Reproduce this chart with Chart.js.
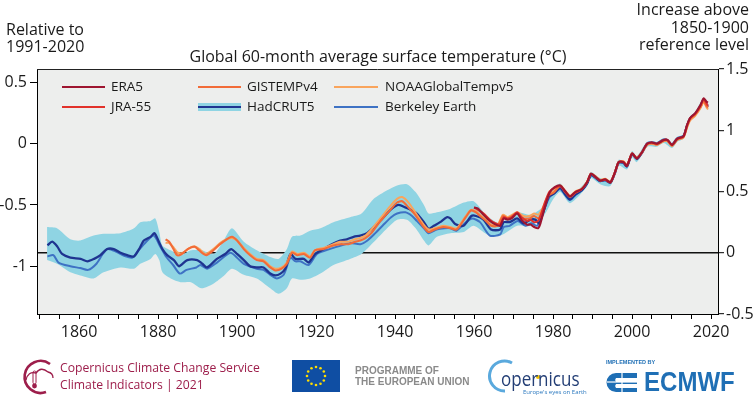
<!DOCTYPE html>
<html>
<head>
<meta charset="utf-8">
<script src="https://cdn.jsdelivr.net/npm/chart.js@4.4.0/dist/chart.umd.min.js"></script>
<style>
html,body{margin:0;padding:0;background:#fff;}
#wrap{position:relative;width:756px;height:412px;overflow:hidden;font-family:"Open Sans",sans-serif;color:#1a1a1a;}
#c{position:absolute;left:0;top:0;}
.t{position:absolute;white-space:nowrap;line-height:1;}
.ln{position:absolute;}
svg{position:absolute;left:0;top:0;}
</style>
</head>
<body>
<div id="wrap">
<canvas id="c" width="756" height="412"></canvas>

<div class="t" style="left:6px;top:20.8px;font-size:16px;">Relative to</div>
<div class="t" style="left:6px;top:37.8px;font-size:16px;">1991-2020</div>
<div class="t" style="right:7px;top:0.8px;font-size:16px;text-align:right;">Increase above</div>
<div class="t" style="right:7px;top:18.8px;font-size:16px;text-align:right;">1850-1900</div>
<div class="t" style="right:7px;top:35.8px;font-size:16px;text-align:right;">reference level</div>
<div class="t" style="left:0;width:756px;text-align:center;top:47.8px;font-size:16px;">Global 60-month average surface temperature (°C)</div>

<!-- legend -->
<div class="ln" style="left:62px;top:86.3px;width:43px;height:2px;background:#9e1530;"></div>
<div class="t" style="left:111px;top:79.7px;font-size:13.5px;">ERA5</div>
<div class="ln" style="left:62px;top:105.7px;width:43px;height:2px;background:#e2322b;"></div>
<div class="t" style="left:111px;top:99.5px;font-size:13.5px;">JRA-55</div>
<div class="ln" style="left:198px;top:86.3px;width:43px;height:2px;background:#f26b38;"></div>
<div class="t" style="left:247px;top:79.7px;font-size:13.5px;">GISTEMPv4</div>
<div class="ln" style="left:198px;top:102.7px;width:43px;height:8px;background:#8fd4e3;"></div>
<div class="ln" style="left:198px;top:105.7px;width:43px;height:2px;background:#1f3490;"></div>
<div class="t" style="left:247px;top:99.5px;font-size:13.5px;">HadCRUT5</div>
<div class="ln" style="left:334px;top:86.3px;width:44px;height:2px;background:#f9a45c;"></div>
<div class="t" style="left:385px;top:79.7px;font-size:13.5px;">NOAAGlobalTempv5</div>
<div class="ln" style="left:334px;top:105.7px;width:44px;height:2px;background:#3e72c4;"></div>
<div class="t" style="left:385px;top:99.5px;font-size:13.5px;">Berkeley Earth</div>

<!-- footer graphics -->
<svg width="756" height="412" viewBox="0 0 756 412">
  <path d="M50 364 A16 16 0 1 0 46 392" fill="none" stroke="#9d1e4b" stroke-width="2.6"/>
  <path d="M26 380 q2 -9 10 -7 q5 -7 12 -1 q5 1 5 6" fill="none" stroke="#9d1e4b" stroke-width="1.3"/>
  <rect x="33" y="371" width="3" height="13" rx="1.5" fill="none" stroke="#9d1e4b" stroke-width="1"/>
  <circle cx="34.5" cy="386" r="2.4" fill="#9d1e4b"/>
  <rect x="292" y="360" width="48" height="32" fill="#0f4ea3"/>
  <g fill="#ffdd00">
    <circle cx="316" cy="367" r="1.3"/><circle cx="320.5" cy="368.2" r="1.3"/><circle cx="323.8" cy="371.5" r="1.3"/>
    <circle cx="325" cy="376" r="1.3"/><circle cx="323.8" cy="380.5" r="1.3"/><circle cx="320.5" cy="383.8" r="1.3"/>
    <circle cx="316" cy="385" r="1.3"/><circle cx="311.5" cy="383.8" r="1.3"/><circle cx="308.2" cy="380.5" r="1.3"/>
    <circle cx="307" cy="376" r="1.3"/><circle cx="308.2" cy="371.5" r="1.3"/><circle cx="311.5" cy="368.2" r="1.3"/>
  </g>
  <path d="M512 363 A15 15 0 1 0 505 391" fill="none" stroke="#5aa9dd" stroke-width="3"/>
  <circle cx="538" cy="377" r="2" fill="#f5c400"/>
  <g fill="#1f6fb5">
    <path d="M616 373 h21 v5 h-21 a3 3 0 0 0 0 4 h21 v2 h-21 a3 3 0 0 0 0 4 h21 v4 h-21 a9.5 9.5 0 0 1 0 -19 z"/>
  </g>
  <g stroke="#fff" stroke-width="1.2" fill="none">
    <path d="M607 382 h30"/><path d="M622 373 v19"/>
  </g>
</svg>

<div class="t" style="left:60px;top:362.2px;font-size:12.2px;color:#9d1e4b;">Copernicus Climate Change Service</div>
<div class="t" style="left:60px;top:379.2px;font-size:12.2px;color:#9d1e4b;">Climate Indicators | 2021</div>
<div class="t" style="left:355px;top:365.8px;font-size:10px;font-weight:bold;font-family:'Liberation Sans',Arial,sans-serif;color:#8a8a8a;">PROGRAMME OF</div>
<div class="t" style="left:355px;top:376.8px;font-size:10px;font-weight:bold;font-family:'Liberation Sans',Arial,sans-serif;color:#8a8a8a;">THE EUROPEAN UNION</div>
<div class="t" style="left:501px;top:369.2px;font-size:20px;color:#233e75;transform:scaleX(0.85);transform-origin:0 0;">opernicus</div>
<div class="t" style="left:523px;top:388.7px;font-size:6px;color:#2a78bf;">Europe's eyes on Earth</div>
<div class="t" style="left:606px;top:360.4px;font-size:5.5px;font-weight:bold;font-family:'Liberation Sans',Arial,sans-serif;color:#1f6fb5;">IMPLEMENTED BY</div>
<div class="t" style="left:644px;top:369.1px;font-size:27px;font-weight:bold;font-family:'Liberation Sans',Arial,sans-serif;color:#1f6fb5;transform:scaleX(0.89);transform-origin:0 0;">ECMWF</div>
</div>

<script>
// offset between the two baselines (1991-2020 vs 1850-1900)
const OFFSET = 0.89;

const xTickYears = [1850,1855,1860,1865,1870,1875,1880,1885,1890,1895,1900,1905,1910,1915,1920,1925,1930,1935,1940,1945,1950,1955,1960,1965,1970,1975,1980,1985,1990,1995,2000,2005,2010,2015,2020];
const xLabelYears = [1860,1880,1900,1920,1940,1960,1980,2000,2020];
const leftTicks = [-1,-0.5,0,0.5];
const rightTicks = [-0.5,0,0.5,1,1.5];

// values: increase above 1850-1900 (°C), 60-month averages
const hadYears = [1852.0,1853.2,1854.5,1855.7,1857.8,1860.4,1862.1,1863.8,1865.4,1867.1,1868.8,1870.5,1872.2,1873.9,1875.2,1876.4,1878.1,1879.1,1880.2,1881.1,1882.3,1884.0,1885.3,1887.4,1889.9,1891.2,1892.4,1894.9,1897.0,1898.5,1900.0,1901.7,1903.3,1905.0,1906.7,1908.4,1909.7,1911.0,1912.2,1913.5,1914.8,1916.9,1918.1,1919.8,1921.9,1924.0,1926.1,1927.8,1929.5,1931.2,1932.9,1935.0,1937.1,1939.2,1940.9,1942.6,1944.3,1945.5,1947.3,1948.5,1949.8,1951.4,1953.1,1954.0,1955.2,1957.3,1959.3,1960.5,1962.4,1964.3,1966.6,1967.5,1969.0,1970.9,1972.5,1974.3,1975.5,1976.5,1977.6,1978.9,1980.1,1981.8,1983.1,1984.3,1985.6,1987.3,1988.6,1989.6,1990.7,1991.9,1993.2,1994.5,1995.7,1996.6,1997.8,1998.7,2000.0,2001.2,2002.5,2003.8,2005.0,2006.3,2008.0,2009.0,2010.1,2011.4,2013.0,2013.9,2014.7,2016.0,2017.3,2018.1,2018.8,2019.2];
const hadValues = [0.06,0.09,0.05,-0.01,-0.04,-0.05,-0.07,-0.05,-0.02,0.03,0.03,0.00,-0.02,-0.03,0.03,0.10,0.13,0.16,0.09,0.03,-0.02,-0.06,-0.11,-0.06,-0.06,-0.09,-0.12,-0.05,-0.01,0.03,-0.01,-0.06,-0.11,-0.12,-0.12,-0.17,-0.185,-0.17,-0.13,-0.01,-0.05,-0.05,-0.08,-0.01,0.03,0.07,0.10,0.11,0.13,0.14,0.16,0.22,0.29,0.36,0.39,0.37,0.345,0.32,0.25,0.195,0.22,0.25,0.29,0.28,0.235,0.22,0.30,0.30,0.27,0.19,0.19,0.25,0.25,0.28,0.24,0.27,0.27,0.24,0.34,0.46,0.48,0.53,0.475,0.435,0.475,0.51,0.565,0.635,0.615,0.585,0.595,0.57,0.655,0.735,0.735,0.705,0.805,0.765,0.815,0.885,0.895,0.885,0.915,0.915,0.875,0.925,0.95,1.035,1.095,1.13,1.19,1.245,1.21,1.19];

const bandYears = [1851.9,1854.4,1857.8,1860.3,1863.7,1866.2,1870.5,1873.9,1875.5,1878.1,1879.3,1880.3,1881.1,1883.2,1885.7,1888.3,1891.0,1894.1,1896.6,1898.7,1901.7,1905.0,1908.4,1910.5,1912.6,1913.9,1916.0,1918.5,1921.1,1924.4,1928.6,1931.5,1934.6,1938.0,1940.5,1943.0,1945.2,1947.3,1948.5,1950.6,1954.0,1957.4,1959.9,1963.3,1966.7,1970.9,1974.3,1977.6,1980.1,1981.8,1984.3,1988.6,1989.6,1991.9,1994.5,1996.6,1998.7,2000.0,2001.2,2003.8,2006.3,2008.0,2010.1,2011.4,2013.0,2014.7,2016.0,2018.1,2019.2];
const bandUpper = [0.21,0.20,0.11,0.10,0.14,0.155,0.16,0.20,0.25,0.26,0.28,0.17,0.06,0.02,-0.02,0.02,0.02,-0.01,0.10,0.20,0.09,0.02,-0.035,-0.05,0.03,0.13,0.14,0.18,0.20,0.25,0.29,0.32,0.44,0.51,0.55,0.56,0.495,0.39,0.32,0.33,0.36,0.41,0.42,0.30,0.24,0.33,0.31,0.38,0.52,0.565,0.465,0.59,0.66,0.61,0.595,0.76,0.73,0.83,0.79,0.905,0.905,0.935,0.895,0.945,0.97,1.115,1.15,1.265,1.21];
const bandLower = [-0.06,-0.09,-0.16,-0.185,-0.21,-0.16,-0.12,-0.13,-0.09,-0.05,-0.01,-0.06,-0.16,-0.21,-0.24,-0.24,-0.29,-0.25,-0.19,-0.13,-0.18,-0.21,-0.29,-0.335,-0.29,-0.21,-0.22,-0.21,-0.17,-0.10,-0.05,-0.01,0.087,0.20,0.27,0.27,0.20,0.10,0.06,0.13,0.16,0.17,0.22,0.15,0.14,0.22,0.22,0.30,0.44,0.495,0.405,0.54,0.61,0.56,0.545,0.71,0.68,0.78,0.74,0.865,0.865,0.895,0.855,0.905,0.93,1.075,1.11,1.225,1.17];

const berkYears = [1852.0,1853.5,1854.8,1857.8,1860.3,1862.3,1864.4,1866.0,1867.3,1869.3,1871.8,1873.5,1874.8,1877.0,1878.9,1880.4,1882.1,1883.8,1885.5,1887.2,1889.7,1890.7,1892.4,1894.9,1898.3,1900.0,1901.7,1905.0,1906.7,1908.4,1910.1,1911.8,1913.5,1914.8,1916.0,1918.1,1920.2,1922.5,1924.4,1926.5,1928.6,1931.2,1933.0,1935.0,1937.1,1939.0,1940.5,1942.6,1944.3,1945.5,1947.3,1948.5,1950.5,1952.5,1954.0,1955.5,1958.0,1959.5,1961.5,1964.0,1966.6,1967.5,1969.0,1971.0,1973.0,1974.5,1976.0,1977.5,1979.0,1980.5,1981.8,1983.1,1984.3,1985.6,1987.3,1988.6,1989.6,1990.7,1991.9,1993.2,1994.5,1995.7,1996.6,1997.8,1998.7,2000.0,2001.2,2002.5,2003.8,2005.0,2006.3,2008.0,2009.0,2010.1,2011.4,2013.0,2013.9,2014.7,2016.0,2017.3,2018.1,2018.8,2019.2];
const berkValues = [-0.03,-0.02,-0.08,-0.11,-0.125,-0.14,-0.09,-0.01,0.03,0.01,-0.03,-0.04,0.01,0.09,0.14,0.06,-0.035,-0.10,-0.17,-0.14,-0.12,-0.10,-0.13,-0.08,0.00,-0.04,-0.09,-0.13,-0.14,-0.18,-0.21,-0.18,-0.04,-0.07,-0.07,-0.10,-0.01,0.02,0.04,0.06,0.08,0.07,0.10,0.16,0.23,0.29,0.32,0.33,0.30,0.26,0.20,0.16,0.19,0.20,0.20,0.18,0.25,0.28,0.25,0.14,0.15,0.21,0.22,0.26,0.22,0.24,0.22,0.33,0.45,0.49,0.52,0.47,0.43,0.47,0.51,0.565,0.635,0.61,0.585,0.59,0.57,0.655,0.74,0.735,0.705,0.81,0.77,0.82,0.895,0.905,0.895,0.925,0.92,0.885,0.935,0.955,1.04,1.10,1.135,1.195,1.25,1.215,1.20];

const gissYears = [1881.9,1882.8,1883.9,1884.8,1886.0,1887.5,1889.2,1890.4,1891.5,1892.2,1894.0,1895.7,1897.4,1898.7,1900.0,1901.7,1903.3,1905.0,1906.7,1908.4,1909.7,1911.3,1912.6,1913.9,1915.2,1916.9,1918.5,1919.7,1921.9,1924.4,1926.1,1928.2,1929.9,1931.2,1932.5,1934.0,1936.3,1938.5,1940.5,1941.8,1943.4,1945.1,1947.0,1948.5,1950.0,1952.2,1954.0,1955.6,1957.9,1959.2,1960.5,1961.5,1963.0,1964.3,1966.0,1967.3,1968.5,1970.9,1972.5,1974.0,1975.2,1976.3,1977.6,1978.9,1980.1,1981.8,1983.1,1984.3,1985.6,1987.3,1988.6,1989.6,1990.7,1991.9,1993.2,1994.5,1995.7,1996.6,1997.8,1998.7,2000.0,2001.2,2002.5,2003.8,2005.0,2006.3,2008.0,2009.0,2010.1,2011.4,2013.0,2013.9,2014.7,2016.0,2017.3,2018.1,2018.8,2019.2];
const gissValues = [0.11,0.09,0.03,-0.02,-0.01,0.03,0.05,0.02,-0.01,-0.02,0.02,0.07,0.11,0.13,0.10,0.03,-0.02,-0.06,-0.07,-0.12,-0.145,-0.13,-0.09,0.00,-0.02,-0.01,-0.04,0.02,0.03,0.06,0.07,0.07,0.09,0.10,0.12,0.16,0.26,0.34,0.41,0.42,0.37,0.31,0.22,0.17,0.19,0.21,0.20,0.19,0.29,0.345,0.33,0.30,0.26,0.22,0.22,0.30,0.28,0.32,0.28,0.28,0.30,0.28,0.36,0.47,0.49,0.545,0.495,0.455,0.49,0.52,0.575,0.645,0.62,0.59,0.60,0.575,0.66,0.74,0.745,0.715,0.81,0.775,0.82,0.885,0.895,0.885,0.915,0.915,0.875,0.925,0.945,1.03,1.09,1.13,1.19,1.24,1.20,1.185];

const noaaYears = [1881.9,1882.8,1884.0,1885.0,1886.3,1888.0,1889.5,1890.5,1892.0,1894.0,1895.7,1897.4,1898.7,1900.0,1901.7,1903.3,1905.0,1906.7,1908.4,1909.7,1911.3,1912.6,1913.9,1915.2,1916.9,1918.5,1919.7,1921.9,1924.4,1926.1,1928.2,1929.9,1931.2,1932.5,1934.0,1936.3,1938.5,1940.5,1941.8,1943.4,1945.1,1947.0,1948.5,1950.0,1952.2,1954.0,1955.6,1957.9,1959.2,1960.5,1961.5,1963.0,1964.3,1966.0,1967.3,1968.5,1970.9,1972.5,1974.0,1975.2,1976.3,1977.6,1978.9,1980.1,1981.8,1983.1,1984.3,1985.6,1987.3,1988.6,1989.6,1990.7,1991.9,1993.2,1994.5,1995.7,1996.6,1997.8,1998.7,2000.0,2001.2,2002.5,2003.8,2005.0,2006.3,2008.0,2009.0,2010.1,2011.4,2013.0,2013.9,2014.7,2016.0,2017.3,2018.1,2018.8,2019.2];
const noaaValues = [0.08,0.08,0.04,0.00,0.00,0.04,0.05,0.03,-0.01,0.03,0.08,0.11,0.12,0.10,0.04,-0.01,-0.05,-0.06,-0.11,-0.13,-0.12,-0.08,0.01,-0.01,0.00,-0.03,0.02,0.04,0.07,0.09,0.09,0.11,0.12,0.14,0.19,0.28,0.37,0.44,0.455,0.41,0.33,0.24,0.19,0.20,0.22,0.21,0.20,0.30,0.35,0.34,0.31,0.27,0.23,0.23,0.31,0.29,0.33,0.30,0.30,0.32,0.31,0.38,0.48,0.50,0.55,0.505,0.465,0.50,0.525,0.58,0.645,0.625,0.595,0.605,0.58,0.66,0.74,0.745,0.715,0.81,0.775,0.82,0.88,0.89,0.88,0.91,0.91,0.87,0.92,0.94,1.02,1.08,1.12,1.18,1.23,1.19,1.17];

const jraYears = [1960.0,1961.0,1962.4,1964.0,1965.5,1966.6,1967.5,1968.5,1969.5,1970.9,1972.0,1973.4,1974.3,1975.2,1976.2,1976.8,1977.8,1979.1,1980.4,1981.8,1983.1,1984.3,1985.6,1987.3,1988.6,1989.6,1990.7,1991.9,1993.2,1994.5,1995.7,1996.6,1997.8,1998.7,2000.0,2001.2,2002.5,2003.8,2005.0,2006.3,2008.0,2009.0,2010.1,2011.4,2013.0,2013.9,2014.7,2016.0,2017.3,2018.1,2018.8,2019.2];
const jraValues = [0.37,0.35,0.32,0.27,0.24,0.23,0.29,0.28,0.29,0.33,0.29,0.26,0.27,0.25,0.26,0.30,0.40,0.50,0.53,0.545,0.50,0.46,0.49,0.52,0.575,0.645,0.62,0.59,0.595,0.575,0.66,0.74,0.74,0.71,0.81,0.77,0.82,0.89,0.90,0.89,0.92,0.92,0.88,0.93,0.95,1.04,1.10,1.135,1.20,1.255,1.22,1.20];

const eraYears = [1960.0,1961.0,1962.4,1964.0,1965.5,1966.6,1967.5,1968.5,1969.5,1970.9,1972.0,1973.4,1974.3,1975.2,1976.2,1976.8,1977.8,1979.1,1980.4,1981.8,1983.1,1984.3,1985.6,1987.3,1988.6,1989.6,1990.7,1991.9,1993.2,1994.5,1995.7,1996.6,1997.8,1998.7,2000.0,2001.2,2002.5,2003.8,2005.0,2006.3,2008.0,2009.0,2010.1,2011.4,2013.0,2013.9,2014.7,2016.0,2017.3,2018.1,2018.8,2019.2];
const eraValues = [0.37,0.36,0.31,0.26,0.23,0.22,0.28,0.27,0.28,0.32,0.27,0.23,0.23,0.21,0.20,0.24,0.36,0.49,0.535,0.55,0.50,0.46,0.495,0.52,0.575,0.645,0.62,0.59,0.60,0.575,0.66,0.74,0.74,0.71,0.81,0.77,0.82,0.89,0.90,0.89,0.92,0.92,0.88,0.93,0.95,1.04,1.10,1.14,1.205,1.26,1.235,1.225];

const FONT = '"Open Sans", sans-serif';
const pts = (xs, vs) => xs.map((x, i) => ({x: x, y: vs[i]}));
const line = (label, xs, vs, color, w) => ({
  label, data: pts(xs, vs), borderColor: color, backgroundColor: color,
  borderWidth: w, pointRadius: 0, tension: 0.25, fill: false, yAxisID: 'y2'
});

const framePlugin = {
  id: 'frame',
  beforeDraw(chart) {
    const {ctx, chartArea: a} = chart;
    ctx.save();
    ctx.fillStyle = '#edeeed';
    ctx.fillRect(a.left, a.top, a.right - a.left, a.bottom - a.top);
    ctx.restore();
  },
  afterDraw(chart) {
    const {ctx, chartArea: a} = chart;
    ctx.save();
    ctx.strokeStyle = '#222';
    ctx.lineWidth = 1;
    ctx.beginPath();
    ctx.moveTo(a.left, Math.round(a.top) + 0.5);
    ctx.lineTo(a.right, Math.round(a.top) + 0.5);
    ctx.stroke();
    ctx.restore();
  }
};

new Chart(document.getElementById('c'), {
  type: 'line',
  data: {
    datasets: [
      line('ERA5', eraYears, eraValues, '#9e1530', 2.1),
      line('JRA-55', jraYears, jraValues, '#e2322b', 2.0),
      line('GISTEMPv4', gissYears, gissValues, '#f26b38', 2.1),
      line('NOAAGlobalTempv5', noaaYears, noaaValues, '#f9a45c', 2.0),
      line('HadCRUT5', hadYears, hadValues, '#1f3490', 2.3),
      line('Berkeley Earth', berkYears, berkValues, '#3e72c4', 2.0),
      {label: 'HadCRUT5 upper', data: pts(bandYears, bandUpper), borderColor: 'rgba(0,0,0,0)', borderWidth: 0,
       backgroundColor: '#8fd4e3', pointRadius: 0, tension: 0.25, fill: '+1', yAxisID: 'y2'},
      {label: 'HadCRUT5 lower', data: pts(bandYears, bandLower), borderColor: 'rgba(0,0,0,0)', borderWidth: 0,
       backgroundColor: '#8fd4e3', pointRadius: 0, tension: 0.25, fill: false, yAxisID: 'y2'}
    ]
  },
  options: {
    responsive: false,
    animation: false,
    events: [],
    layout: {padding: {top: 69, bottom: 68, left: 0, right: 0}},
    plugins: {legend: {display: false}, tooltip: {enabled: false}, title: {display: false}},
    scales: {
      x: {
        type: 'linear', position: 'bottom', min: 1849.35, max: 2021.75,
        afterBuildTicks: s => { s.ticks = xTickYears.map(v => ({value: v})); },
        afterFit: s => { s.height = 30; },
        ticks: {autoSkip: false, maxRotation: 0, padding: 4, color: '#1a1a1a', font: {family: FONT, size: 16},
                callback: v => xLabelYears.includes(v) ? String(v) : ''},
        grid: {drawOnChartArea: false, drawTicks: true, tickLength: 5, tickColor: '#000', tickWidth: 1},
        border: {display: true, color: '#000', width: 1}
      },
      y: {
        type: 'linear', position: 'left', min: -0.5 - OFFSET, max: 1.5 - OFFSET,
        afterBuildTicks: s => { s.ticks = leftTicks.map(v => ({value: v})); },
        afterFit: s => { s.width = 37; },
        ticks: {padding: 3, color: '#1a1a1a', font: {family: FONT, size: 16}, callback: v => String(v)},
        grid: {drawOnChartArea: false, drawTicks: true, tickLength: 7, tickColor: '#000', tickWidth: 1},
        border: {display: true, color: '#000', width: 1}
      },
      y2: {
        type: 'linear', position: 'right', min: -0.5, max: 1.5,
        afterBuildTicks: s => { s.ticks = rightTicks.map(v => ({value: v})); },
        afterFit: s => { s.width = 38; },
        ticks: {padding: 2, color: '#1a1a1a', font: {family: FONT, size: 16}, callback: v => String(v)},
        grid: {drawOnChartArea: true, drawTicks: true, tickLength: 6, tickColor: '#000', tickWidth: 1,
               lineWidth: 1.4, color: c => (c.tick && c.tick.value === 0) ? '#111' : 'rgba(0,0,0,0)'},
        border: {display: true, color: '#000', width: 1}
      }
    }
  },
  plugins: [framePlugin]
});
</script>
</body>
</html>
